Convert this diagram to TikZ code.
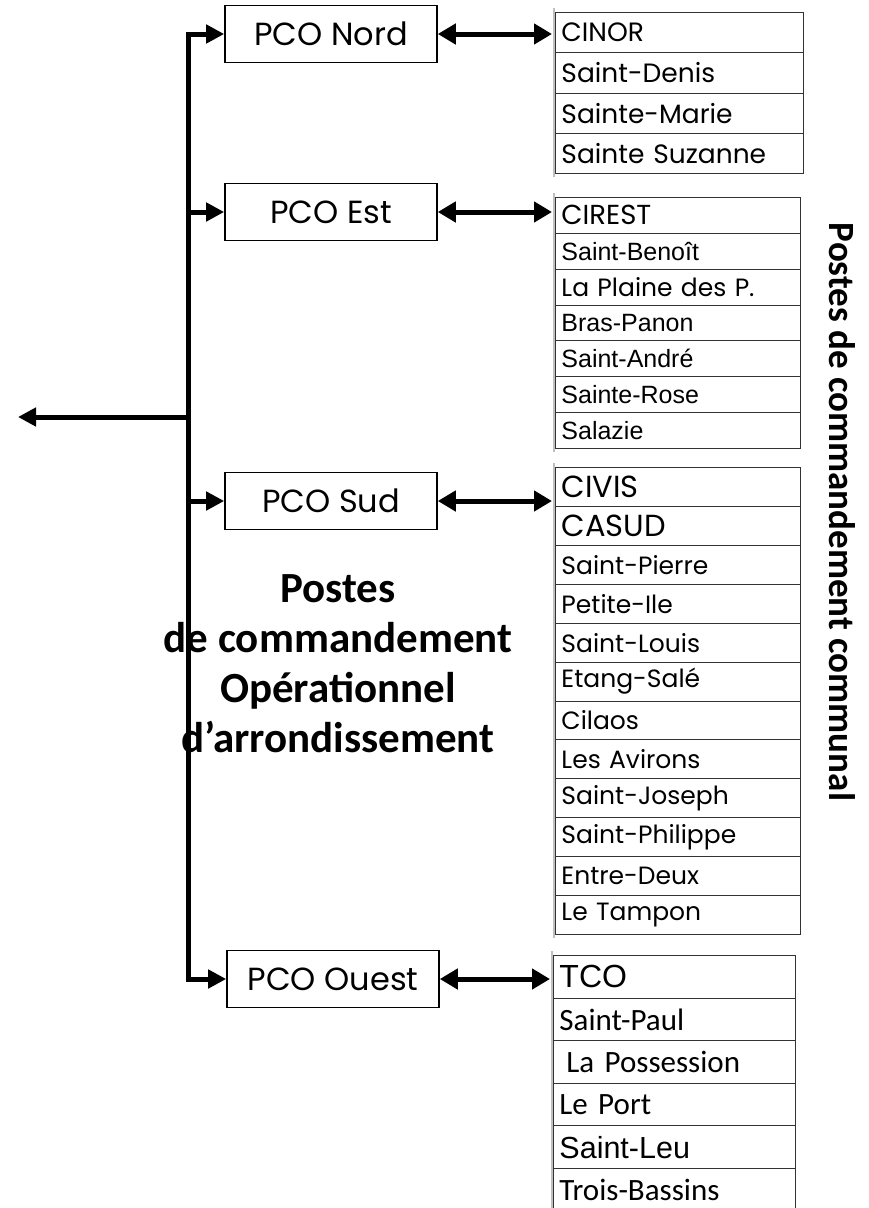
\documentclass[tikz,border=0pt]{standalone}
\usepackage{fontspec}
\setmainfont{Poppins}
\newfontfamily\geo{Poppins}
\newfontfamily\arial{Liberation Sans}
\newfontfamily\calib{Carlito}
\usetikzlibrary{arrows.meta}
\newcommand{\fs}[1]{\fontsize{#1}{#1}\selectfont}
\begin{document}
\begin{tikzpicture}[x=1pt,y=-1pt,
  pcobox/.style={draw, line width=1.6pt, minimum width=212pt, minimum height=57pt, inner sep=0pt, font=\geo\fs{32}},
  cell/.style={draw=black!80, line width=0.9pt, anchor=north west, inner xsep=6pt, inner ysep=0pt, align=left},
  tN/.style={cell, text width=236pt, minimum height=40.25pt, font=\geo\fs{26.5}},
  tE/.style={cell, text width=233pt, minimum height=35.86pt, font=\arial\fs{25}},
  tS/.style={cell, text width=233pt, minimum height=38.92pt, font=\geo\fs{25}},
  tO/.style={cell, text width=230pt, minimum height=42.6pt, font=\calib\fs{31}},
  trunk/.style={line width=5pt, line cap=rect},
  br/.style={line width=5pt, -{Triangle[length=18pt,width=18pt]}},
  dbl/.style={line width=5pt, {Triangle[length=18pt,width=20pt]}-{Triangle[length=18pt,width=20pt]}, shorten >=3pt},
  colhdr/.style={draw=black!25, line width=2pt},
  bigtitle/.style={font=\calib\bfseries\fs{43}, align=center}
]
\useasboundingbox (0,0) rectangle (868,1208);

% PCO boxes
\node[pcobox] (nord) at (331,34) {PCO Nord};
\node[pcobox] (est) at (331,212) {PCO Est};
\node[pcobox] (sud) at (331,501) {PCO Sud};
\node[pcobox] (ouest) at (333,979) {PCO Ouest};

% trunk
\coordinate (tTop) at (188,34);
\coordinate (tBot) at (188,979);
\coordinate (tMid) at (188,417);
\coordinate (outEnd) at (18,417);
\draw[trunk] (tTop) -- (tBot);
\draw[br] (tTop) -- (nord.west);
\draw[br] (tTop |- est.west) -- (est.west);
\draw[br] (tTop |- sud.west) -- (sud.west);
\draw[br] (tBot) -- (ouest.west);
\draw[br] (tMid) -- (outEnd);

% Nord table
\draw[colhdr] (553.5,8) -- (553.5,177);
\node[tN] (n1) at (555,12) {CINOR};
\node[tN] (n2) at (555,52.25) {Saint-Denis};
\node[tN] (n3) at (555,92.5) {Sainte-Marie};
\node[tN] (n4) at (555,132.75) {Sainte Suzanne};

% Est table
\draw[colhdr] (553.5,193) -- (553.5,452);
\node[tE, font=\geo\fs{27.5}] (e1) at (555,197) {CIREST};
\node[tE] (e2) at (555,232.86) {Saint-Benoît};
\node[tE, font=\geo\fs{25}] (e3) at (555,268.72) {La Plaine des P.};
\node[tE] (e4) at (555,304.58) {Bras-Panon};
\node[tE] (e5) at (555,340.44) {Saint-André};
\node[tE] (e6) at (555,376.3) {Sainte-Rose};
\node[tE] (e7) at (555,412.16) {Salazie};

% Sud table
\draw[colhdr] (553.5,463) -- (553.5,938);
\node[tS, font=\geo\fs{30.5}] (s1) at (555,467) {CIVIS};
\node[tS, font=\geo\fs{30.5}] (s2) at (555,505.92) {CASUD};
\node[tS] (s3) at (555,544.84) {Saint-Pierre};
\node[tS] (s4) at (555,583.76) {Petite-Ile};
\node[tS] (s5) at (555,622.68) {Saint-Louis};
\node[tS] (s6) at (555,661.6) {Etang-Salé};
\node[tS] (s7) at (555,700.52) {Cilaos};
\node[tS] (s8) at (555,739.44) {Les Avirons};
\node[tS] (s9) at (555,778.36) {Saint-Joseph};
\node[tS] (s10) at (555,817.28) {Saint-Philippe};
\node[tS] (s11) at (555,856.2) {Entre-Deux};
\node[tS] (s12) at (555,895.12) {Le Tampon};

% Ouest table
\draw[colhdr] (551.5,951) -- (551.5,1212);
\node[tO, font=\arial\fs{32}] (o1) at (553,955) {TCO};
\node[tO] (o2) at (553,997.6) {Saint-Paul};
\node[tO] (o3) at (553,1040.2) {\hspace*{7pt}La Possession};
\node[tO] (o4) at (553,1082.8) {Le Port};
\node[tO, font=\arial\fs{30.5}] (o5) at (553,1125.4) {Saint-Leu};
\node[tO] (o6) at (553,1168) {Trois-Bassins};

% double arrows
\draw[dbl] (nord.east) -- (nord.east -| n1.west);
\draw[dbl] (est.east) -- (est.east -| e1.west);
\draw[dbl] (sud.east) -- (sud.east -| s1.west);
\draw[dbl] (ouest.east) -- (ouest.east -| o1.west);

% titles
\node[bigtitle] (pcoa) at (338,664) {Postes\\[7pt]de commandement\\[7pt]Opérationnel\\[7pt]d’arrondissement};
\node[font=\calib\bfseries\fs{37}, rotate=-90] (pcc) at (842,512) {Postes de commandement communal};
\end{tikzpicture}
\end{document}
